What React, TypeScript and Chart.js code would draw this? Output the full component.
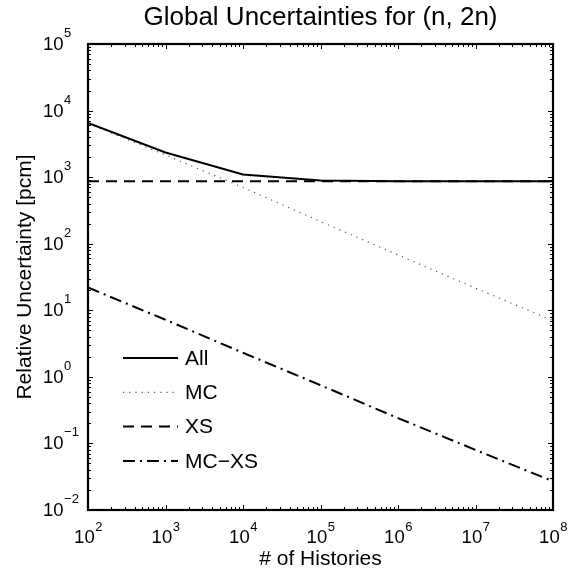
import React, { useEffect, useRef } from "react";
import { Chart, registerables } from "chart.js";

Chart.register(...registerables);

const TITLE = "Global Uncertainties for (n, 2n)";
const X_TITLE = "# of Histories";
const Y_TITLE = "Relative Uncertainty [pcm]";

const histories = [1e2, 1e3, 1e4, 1e5, 1e6, 1e7, 1e8];
const allValues = [6500, 2350, 1100, 890, 870, 868, 868];
const mcValues = [6400, 2150, 700, 215, 68, 21.5, 7];
const xsValues = [868, 868, 868, 868, 868, 868, 868];
const mcxsValues = [22, 7.2, 2.3, 0.75, 0.24, 0.08, 0.027];

const seriesNames = ["All", "MC", "XS", "MC\u2212XS"];

const xTickExponents = [2, 3, 4, 5, 6, 7, 8];
const yTickExponents = [-2, -1, 0, 1, 2, 3, 4, 5];

const FONT = "'Liberation Sans', Arial, Helvetica, sans-serif";

const styles = [
  { color: "#000", width: 2, dash: [] as number[] },
  { color: "#555", width: 1.2, dash: [1.2, 5] },
  { color: "#000", width: 2, dash: [11, 7] },
  { color: "#000", width: 2, dash: [12, 5, 2, 5] },
];

function toPoints(vals: number[]) {
  return histories.map((x, i) => ({ x, y: vals[i] }));
}

const framePlugin = {
  id: "frame",
  afterDraw(chart: any) {
    const ctx = chart.ctx as CanvasRenderingContext2D;
    const { left, right, top, bottom } = chart.chartArea;
    const xs = chart.scales.x;
    const ys = chart.scales.y;
    ctx.save();
    ctx.strokeStyle = "#000";
    ctx.fillStyle = "#000";
    // ticks
    ctx.lineWidth = 1;
    const majorLen = 5;
    const minorLen = 3;
    for (let e = xTickExponents[0]; e <= xTickExponents[xTickExponents.length - 1]; e++) {
      for (let m = 1; m <= 9; m++) {
        const v = m * Math.pow(10, e);
        if (v > Math.pow(10, xTickExponents[xTickExponents.length - 1])) break;
        const px = Math.round(xs.getPixelForValue(v)) + 0.5;
        const len = m === 1 ? majorLen : minorLen;
        ctx.beginPath();
        ctx.moveTo(px, bottom);
        ctx.lineTo(px, bottom - len);
        ctx.moveTo(px, top);
        ctx.lineTo(px, top + len);
        ctx.stroke();
      }
    }
    for (let e = yTickExponents[0]; e <= yTickExponents[yTickExponents.length - 1]; e++) {
      for (let m = 1; m <= 9; m++) {
        const v = m * Math.pow(10, e);
        if (v > Math.pow(10, yTickExponents[yTickExponents.length - 1])) break;
        const py = Math.round(ys.getPixelForValue(v)) + 0.5;
        const len = m === 1 ? majorLen : minorLen;
        ctx.beginPath();
        ctx.moveTo(left, py);
        ctx.lineTo(left + len, py);
        ctx.moveTo(right, py);
        ctx.lineTo(right - len, py);
        ctx.stroke();
      }
    }
    // frame
    ctx.lineWidth = 2.2;
    ctx.strokeRect(left, top, right - left, bottom - top);

    // tick labels
    const baseSize = 18.5;
    const expSize = 13;
    ctx.textBaseline = "alphabetic";
    for (const e of xTickExponents) {
      const px = xs.getPixelForValue(Math.pow(10, e));
      ctx.font = `${baseSize}px ${FONT}`;
      const w1 = ctx.measureText("10").width;
      ctx.font = `${expSize}px ${FONT}`;
      const es = String(e).replace("-", "\u2212");
      const w2 = ctx.measureText(es).width;
      const x0 = px - (w1 + w2) / 2;
      ctx.font = `${baseSize}px ${FONT}`;
      ctx.textAlign = "left";
      ctx.fillText("10", x0, 543);
      ctx.font = `${expSize}px ${FONT}`;
      ctx.fillText(es, x0 + w1 + 0.5, 531);
    }
    for (const e of yTickExponents) {
      const py = ys.getPixelForValue(Math.pow(10, e));
      const es = String(e).replace("-", "\u2212");
      ctx.textAlign = "left";
      ctx.font = `${baseSize}px ${FONT}`;
      const w1 = ctx.measureText("10").width;
      const x0 = 43;
      ctx.fillText("10", x0, py + 6);
      ctx.font = `${expSize}px ${FONT}`;
      ctx.fillText(es, x0 + w1 + 0.5, py - 7);
    }

    // titles
    ctx.textAlign = "center";
    ctx.font = `26px ${FONT}`;
    ctx.fillText(TITLE, (left + right) / 2, 25);
    ctx.font = `21px ${FONT}`;
    ctx.fillText(X_TITLE, (left + right) / 2, 565);
    ctx.save();
    ctx.translate(31, (top + bottom) / 2);
    ctx.rotate(-Math.PI / 2);
    ctx.fillText(Y_TITLE, 0, 0);
    ctx.restore();

    // legend
    const lx0 = 123;
    const lx1 = 178;
    const ly0 = 358;
    const gap = 34.3;
    ctx.font = `21px ${FONT}`;
    ctx.textAlign = "left";
    ctx.textBaseline = "middle";
    seriesNames.forEach((name, i) => {
      const y = ly0 + i * gap;
      const st = styles[i];
      ctx.save();
      ctx.strokeStyle = st.color;
      ctx.lineWidth = st.width;
      ctx.setLineDash(st.dash);
      ctx.beginPath();
      ctx.moveTo(lx0, y);
      ctx.lineTo(lx1, y);
      ctx.stroke();
      ctx.restore();
      ctx.fillText(name, 185, y + 1);
    });
    ctx.restore();
  },
};

export default function App() {
  const ref = useRef<HTMLCanvasElement>(null);
  useEffect(() => {
    if (!ref.current) return;
    const data = [allValues, mcValues, xsValues, mcxsValues];
    const chart = new Chart(ref.current, {
      type: "line",
      data: {
        datasets: data.map((vals, i) => ({
          label: seriesNames[i],
          data: toPoints(vals),
          borderColor: styles[i].color,
          borderWidth: styles[i].width,
          borderDash: styles[i].dash,
          pointRadius: 0,
          fill: false,
          tension: 0,
        })),
      },
      options: {
        animation: false,
        responsive: false,
        maintainAspectRatio: false,
        layout: { padding: { left: 88, right: 24, top: 44, bottom: 61 } },
        plugins: {
          legend: { display: false },
          title: { display: false },
          tooltip: { enabled: false },
        },
        scales: {
          x: {
            type: "logarithmic",
            min: 1e2,
            max: 1e8,
            display: true,
            grid: { display: false, drawTicks: false },
            border: { display: false },
            ticks: { display: false },
          },
          y: {
            type: "logarithmic",
            min: 1e-2,
            max: 1e5,
            display: true,
            grid: { display: false, drawTicks: false },
            border: { display: false },
            ticks: { display: false },
          },
        },
      },
      plugins: [framePlugin],
    });
    return () => chart.destroy();
  }, []);
  return (
    <div style={{ position: "fixed", left: 0, top: 0, width: 577, height: 571, background: "#fff" }}>
      <canvas ref={ref} width={577} height={571} style={{ display: "block" }} />
    </div>
  );
}
